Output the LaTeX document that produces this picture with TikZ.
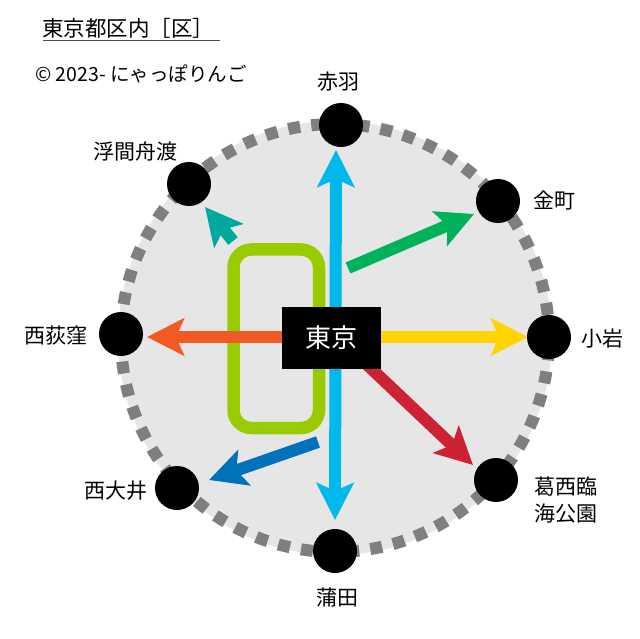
\documentclass[tikz,border=0pt]{standalone}
\usepackage{fontspec}
\setmainfont{Noto Sans CJK JP}
\usetikzlibrary{arrows.meta}
\definecolor{ringfill}{HTML}{E7E6E7}
\definecolor{ringgray}{HTML}{7F7F7F}
\definecolor{lnblue}{HTML}{00B8EA}
\definecolor{lnorange}{HTML}{F15A24}
\definecolor{lnyellow}{HTML}{FFD400}
\definecolor{lngreen}{HTML}{00B25A}
\definecolor{lnred}{HTML}{CC2233}
\definecolor{lnteal}{HTML}{00A99D}
\definecolor{lndblue}{HTML}{0072BC}
\definecolor{lnlime}{HTML}{99CC00}
\begin{document}
\begin{tikzpicture}[x=1pt,y=-1pt,
  rail/.style={line width=12pt},
  arr/.style={rail,-{Stealth[length=37pt,width=37pt,inset=8pt]}},
  arrboth/.style={rail,{Stealth[length=37pt,width=37pt,inset=8pt]}-{Stealth[length=37pt,width=37pt,inset=8pt]}},
  dot/.style={circle,fill=black,minimum size=44pt,inner sep=0pt},
  lbl/.style={font=\fontsize{21}{27}\selectfont,inner sep=0pt,align=center}]
\useasboundingbox (0,0) rectangle (640,639);
\fill[white] (0,0) rectangle (640,639);
% title
\node[anchor=west,inner sep=0pt,font=\fontsize{21.5}{24}\selectfont] (title) at (42,28) {東京都区内［区］};
\draw[black!70,line width=1.8pt] (43,40.5) -- (220,40.5);
\node[anchor=west,inner sep=0pt,font=\fontsize{19.5}{20}\selectfont] (copy) at (35,74) {© 2023- にゃっぽりんご};
% ring
\coordinate (c) at (335,338);
\fill[ringfill] (c) circle (217pt);
\draw[ringgray,line width=12pt,dash pattern=on 12pt off 11.2pt] (c) circle (214pt);
% lime loop
\draw[lnlime,line width=12.5pt,rounded corners=18pt] (233.5,249.5) rectangle (319,428);
% arrow end points
\coordinate (bluetop) at (336,150);
\coordinate (bluebot) at (335,520);
\coordinate (orS) at (300,337);
\coordinate (orE) at (147,337);
\coordinate (yeS) at (360,337);
\coordinate (yeE) at (528,337);
\coordinate (grS) at (348,268);
\coordinate (grE) at (474,214);
\coordinate (reS) at (360,358);
\coordinate (reE) at (473,465);
\coordinate (teS) at (233,241);
\coordinate (teE) at (205,207);
\coordinate (dbS) at (318,442);
\coordinate (dbE) at (209,480);
\draw[arr,lnorange] (orS) -- (orE);
\draw[arr,lnyellow] (yeS) -- (yeE);
\draw[arr,lngreen] (grS) -- (grE);
\draw[arr,lnred] (reS) -- (reE);
\draw[arr,lnteal] (teS) -- (teE);
\draw[arr,lndblue] (dbS) -- (dbE);
\draw[arrboth,lnblue] (bluebot) -- (bluetop);
% Tokyo box
\node[fill=black,text=white,minimum width=99pt,minimum height=62pt,inner sep=0pt,font=\fontsize{26}{30}\selectfont] (tokyo) at (331.5,338) {東京};
% station dots
\node[dot] (akabane) at (341,125) {};
\node[dot] (kanamachi) at (498,201) {};
\node[dot] (koiwa) at (549,337) {};
\node[dot] (kasai) at (496,480) {};
\node[dot] (kamata) at (335,551) {};
\node[dot] (oimachi) at (177,488) {};
\node[dot] (ogikubo) at (121,334) {};
\node[dot] (ukima) at (189,184) {};
% labels
\node[lbl] (lakabane) at (338,82) {赤羽};
\node[lbl] (lkanamachi) at (554,201) {金町};
\node[lbl] (lkoiwa) at (602,339) {小岩};
\node[lbl] (lkasai) at (566,500.5) {葛西臨\\海公園};
\node[lbl] (lkamata) at (337,598) {蒲田};
\node[lbl] (loimachi) at (116,491) {西大井};
\node[lbl] (logikubo) at (56,336) {西荻窪};
\node[lbl] (lukima) at (135,152) {浮間舟渡};
\end{tikzpicture}
\end{document}
